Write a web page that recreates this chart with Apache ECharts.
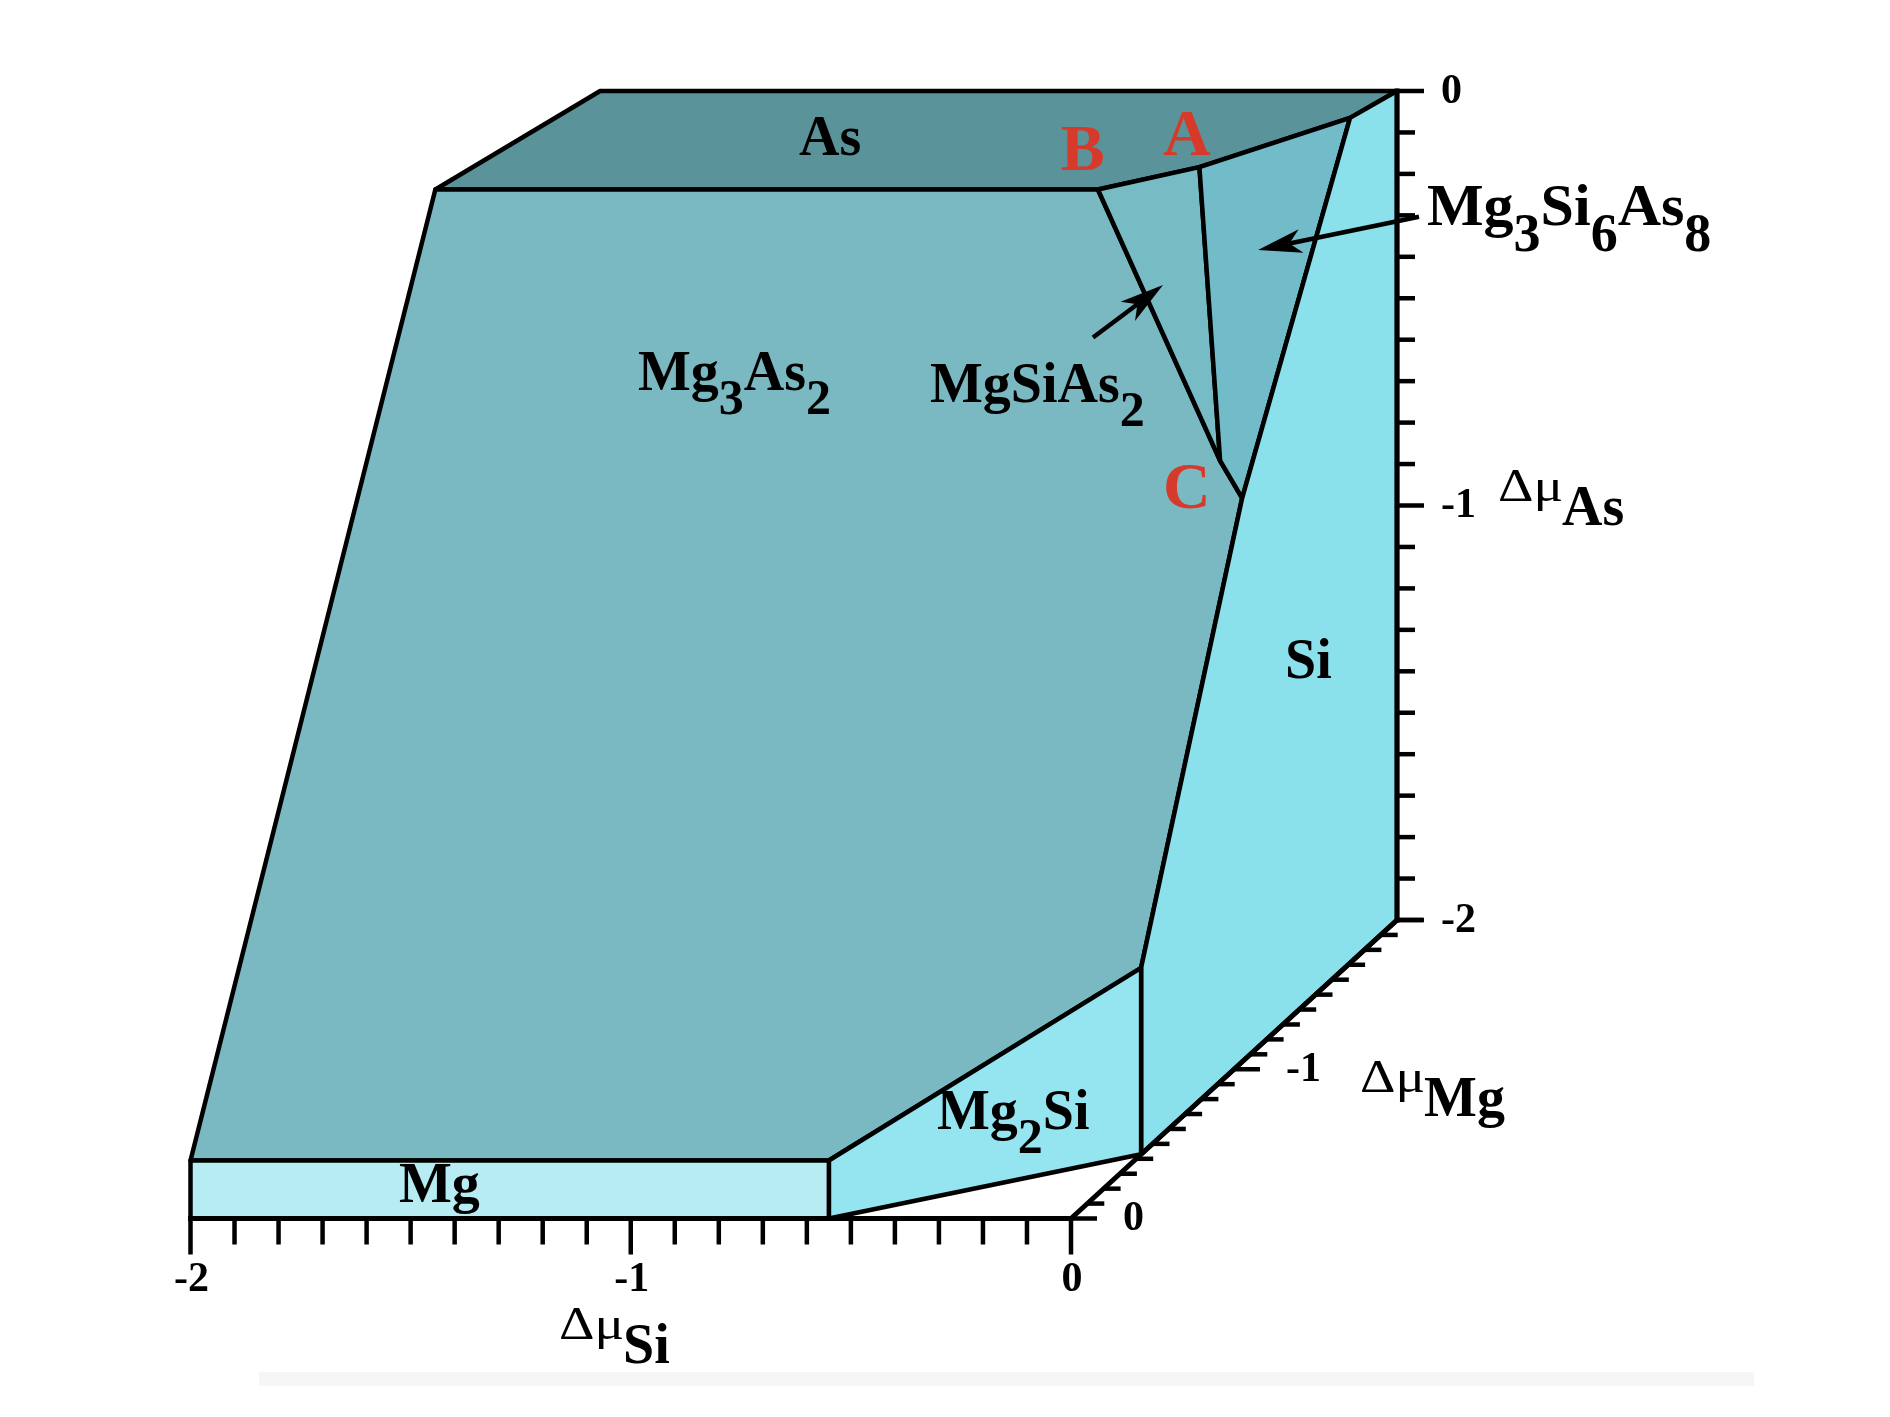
<!DOCTYPE html>
<html>
<head>
<meta charset="utf-8">
<script src="https://cdn.jsdelivr.net/npm/echarts@6/dist/echarts.min.js"></script>
<style>
html,body{margin:0;padding:0;background:#ffffff;}
#chart{width:1890px;height:1417px;}
</style>
</head>
<body>
<div id="chart"></div>
<script>
// ================= DATA (chemical potentials, eV) =================
// every vertex is [Δμ_Si, Δμ_Mg, Δμ_As]
const faceNames = ['As', 'Mg3As2', 'MgSiAs2', 'Mg3Si6As8', 'Si', 'Mg2Si', 'Mg'];
const faceAs        = [[-1.81,-2,0],[0,-2,0],[-0.04,-1.82,0],[-0.26,-1.49,0],[-0.435,-1.34,0],[-1.94,-1.34,0]];
const faceMg3As2    = [[-1.94,-1.34,0],[-0.435,-1.34,0],[-0.05,-1.05,-0.55],[0,-1.05,-0.64],[0,-0.43,-1.55],[-0.55,0,-1.86],[-2,0,-1.86]];
const faceMgSiAs2   = [[-0.435,-1.34,0],[-0.26,-1.49,0],[-0.05,-1.05,-0.55]];
const faceMg3Si6As8 = [[-0.26,-1.49,0],[-0.04,-1.82,0],[0,-1.05,-0.64],[-0.05,-1.05,-0.55]];
const faceSi        = [[-0.04,-1.82,0],[0,-2,0],[0,-2,-2],[0,-0.43,-2],[0,-0.43,-1.55],[0,-1.05,-0.64]];
const faceMg2Si     = [[-0.55,0,-1.86],[0,-0.43,-1.55],[0,-0.43,-2],[-0.55,0,-2]];
const faceMg        = [[-2,0,-1.86],[-0.55,0,-1.86],[-0.55,0,-2],[-2,0,-2]];

// axes
const siRange = [-2, 0];
const mgRange = [0, -2];
const asRange = [-2, 0];
const tickStep = 0.1;
const siTickValues = [-2, -1, 0];
const siTickLabels = ['-2', '-1', '0'];
const mgTickValues = [0, -1, -2];
const mgTickLabels = ['0', '-1', ''];
const asTickValues = [0, -1, -2];
const asTickLabels = ['0', '-1', '-2'];

// text
const faceLabelTexts = ['{n|As}', '{n|Mg}{s|3}{n|As}{s|2}', '{n|MgSiAs}{s|2}', '{N|Mg}{S|3}{N|Si}{S|6}{N|As}{S|8}', '{n|Si}', '{n|Mg}{s|2}{n|Si}', '{n|Mg}'];
const pointLabelTexts = ['A', 'B', 'C'];
const axisTitleMain = ['Δμ', 'Δμ', 'Δμ'];
const axisTitleSub = ['Si', 'Mg', 'As'];

// ================= VIEW / LAYOUT (not data) =================
const SERIF = "'Liberation Serif','Times New Roman',Times,serif";
const VIEW = { kx: 0.37025, ky: 0.36007 };           // oblique projection of the Δμ_Mg depth axis
function project(p) { return [p[0] - VIEW.kx * p[1], p[2] + 2 - VIEW.ky * p[1]]; }

const FACE_COLORS = { As:'#5a9399', Mg3As2:'#7ab8c2', MgSiAs2:'#77bbc5', Mg3Si6As8:'#71bcc8', Si:'#8ae1ec', Mg2Si:'#95e5f0', Mg:'#b7ecf2' };
const FACES = { As: faceAs, Mg3As2: faceMg3As2, MgSiAs2: faceMgSiAs2, Mg3Si6As8: faceMg3Si6As8, Si: faceSi, Mg2Si: faceMg2Si, Mg: faceMg };

// label anchors in view (projected) coordinates
const FACE_LABEL_POS = [[-0.6178,2.4789],[-0.9835,1.9119],[-0.3203,1.8830],[0.8086,2.3033],[0.4861,1.2171],[-0.3044,0.1291],[-1.5264,-0.0470]];
const POINT_LABEL_POS = [[0.2090,2.5279],[-0.0232,2.4920],[0.2090,1.6755]];
const AXIS_TITLE_POS = [[-1.1630,-0.3160],[0.6565,0.2799],[0.9699,1.7057]];
const ARROWS = [
  { from: [0.0500, 2.1255], to: [0.2090, 2.2521] },
  { from: [0.7905, 2.4169], to: [0.4248, 2.3365] }
];

const AXES = [
  { point: t => [t, 0, -2], range: siRange, values: siTickValues, labels: siTickLabels, dir: [0, 1], minor: 26, major: 36, lab: { dx: 1, dy: 62, align: 'center' } },
  { point: t => [0, t, -2], range: mgRange, values: mgTickValues, labels: mgTickLabels, dir: [1, 0], minor: 17, major: 26, lab: { dx: 52, dy: 1, align: 'left' } },
  { point: t => [0, -2, t], range: asRange, values: asTickValues, labels: asTickLabels, dir: [1, 0], minor: 18, major: 27, lab: { dx: 44, dy: 1, align: 'left' } }
];

const FORMULA_RICH = {
  n: { fontFamily: SERIF, fontWeight: 'bold', fontSize: 56, fill: '#000', verticalAlign: 'bottom', padding: [0, 0, 22, 0] },
  s: { fontFamily: SERIF, fontWeight: 'bold', fontSize: 50, fill: '#000', verticalAlign: 'bottom' },
  N: { fontFamily: SERIF, fontWeight: 'bold', fontSize: 60, fill: '#000', verticalAlign: 'bottom', padding: [0, 0, 24, 0] },
  S: { fontFamily: SERIF, fontWeight: 'bold', fontSize: 54, fill: '#000', verticalAlign: 'bottom' }
};

function arrowParts(p0, p1) {
  const dx = p1[0] - p0[0], dy = p1[1] - p0[1], L = Math.hypot(dx, dy);
  const ux = dx / L, uy = dy / L, nx = -uy, ny = ux;
  const hl = 44, hw = 12, notch = 12;
  const base = [p1[0] - ux * hl, p1[1] - uy * hl];
  const nb = [p1[0] - ux * (hl - notch), p1[1] - uy * (hl - notch)];
  return {
    line: [p0, nb],
    head: [p1, [base[0] + nx * hw, base[1] + ny * hw], nb, [base[0] - nx * hw, base[1] - ny * hw]]
  };
}

const chart = echarts.init(document.getElementById('chart'), null, { renderer: 'canvas' });
chart.setOption({
  animation: false,
  backgroundColor: '#ffffff',
  grid: { left: 190.5, top: 16.45, width: 1584.9, height: 1367.85, containLabel: false, outerBoundsMode: 'none' },
  xAxis: { type: 'value', min: -2, max: 1.6, show: false },
  yAxis: { type: 'value', min: -0.4, max: 2.9, show: false },
  graphic: [
    { type: 'rect', z: -10, silent: true, shape: { x: 259, y: 1372, width: 1495, height: 14 }, style: { fill: '#f6f6f6' } }
  ],
  series: [
    {
      type: 'custom', name: 'faces', coordinateSystem: 'cartesian2d', silent: true, z: 1, clip: false,
      data: faceNames.map(() => [0, 0]),
      renderItem(params, api) {
        const name = faceNames[params.dataIndex];
        const pts = FACES[name].map(p => api.coord(project(p)));
        return { type: 'polygon', shape: { points: pts }, style: { fill: FACE_COLORS[name], stroke: '#000', lineWidth: 4.5, lineJoin: 'round' } };
      }
    },
    {
      type: 'custom', name: 'axes', coordinateSystem: 'cartesian2d', silent: true, z: 2, clip: false,
      data: AXES.map(() => [0, 0]),
      renderItem(params, api) {
        const ax = AXES[params.dataIndex];
        const children = [];
        const a = api.coord(project(ax.point(ax.range[0])));
        const b = api.coord(project(ax.point(ax.range[1])));
        children.push({ type: 'line', shape: { x1: a[0], y1: a[1], x2: b[0], y2: b[1] }, style: { stroke: '#000', lineWidth: 5, lineCap: 'square' } });
        const n = Math.round(Math.abs(ax.range[1] - ax.range[0]) / tickStep);
        const sgn = ax.range[1] > ax.range[0] ? 1 : -1;
        for (let k = 0; k <= n; k++) {
          const t = ax.range[0] + sgn * k * tickStep;
          const isMajor = ax.values.some(v => Math.abs(v - t) < 1e-6);
          const len = isMajor ? ax.major : ax.minor;
          const p = api.coord(project(ax.point(t)));
          children.push({ type: 'line', shape: { x1: p[0], y1: p[1], x2: p[0] + ax.dir[0] * len, y2: p[1] + ax.dir[1] * len }, style: { stroke: '#000', lineWidth: 4.5 } });
        }
        ax.values.forEach((v, i) => {
          if (!ax.labels[i]) return;
          const p = api.coord(project(ax.point(v)));
          children.push({ type: 'text', x: p[0] + ax.lab.dx, y: p[1] + ax.lab.dy,
            style: { text: ax.labels[i], fill: '#000', font: 'bold 42px ' + SERIF, align: ax.lab.align, verticalAlign: 'middle' } });
        });
        return { type: 'group', children };
      }
    },
    {
      type: 'custom', name: 'faceLabels', coordinateSystem: 'cartesian2d', silent: true, z: 3, clip: false,
      data: FACE_LABEL_POS,
      renderItem(params, api) {
        const p = api.coord([api.value(0), api.value(1)]);
        return { type: 'text', x: p[0], y: p[1], style: { text: faceLabelTexts[params.dataIndex], rich: FORMULA_RICH, align: 'left', verticalAlign: 'bottom', fill: '#000', font: 'bold 56px ' + SERIF } };
      }
    },
    {
      type: 'custom', name: 'pointLabels', coordinateSystem: 'cartesian2d', silent: true, z: 3, clip: false,
      data: POINT_LABEL_POS,
      renderItem(params, api) {
        const p = api.coord([api.value(0), api.value(1)]);
        return { type: 'text', x: p[0], y: p[1], style: { text: pointLabelTexts[params.dataIndex], fill: '#d63a2b', font: 'bold 66px ' + SERIF, align: 'left', verticalAlign: 'bottom' } };
      }
    },
    {
      type: 'custom', name: 'axisTitles', coordinateSystem: 'cartesian2d', silent: true, z: 3, clip: false,
      data: AXIS_TITLE_POS,
      renderItem(params, api) {
        const p = api.coord([api.value(0), api.value(1)]);
        const i = params.dataIndex;
        return { type: 'group', children: [
          { type: 'text', x: p[0], y: p[1], scaleX: 1.2, style: { text: axisTitleMain[i], fill: '#000', font: 'normal 46px ' + SERIF, align: 'left', verticalAlign: 'bottom' } },
          { type: 'text', x: p[0] + 64, y: p[1] + 26.6, style: { text: axisTitleSub[i], fill: '#000', font: 'bold 56px ' + SERIF, align: 'left', verticalAlign: 'bottom' } }
        ] };
      }
    },
    {
      type: 'custom', name: 'arrows', coordinateSystem: 'cartesian2d', silent: true, z: 4, clip: false,
      data: ARROWS.map(a => [a.to[0], a.to[1]]),
      renderItem(params, api) {
        const ar = ARROWS[params.dataIndex];
        const p0 = api.coord(ar.from), p1 = api.coord(ar.to);
        const parts = arrowParts(p0, p1);
        return { type: 'group', children: [
          { type: 'line', shape: { x1: parts.line[0][0], y1: parts.line[0][1], x2: parts.line[1][0], y2: parts.line[1][1] }, style: { stroke: '#000', lineWidth: 4.5 } },
          { type: 'polygon', shape: { points: parts.head }, style: { fill: '#000' } }
        ] };
      }
    }
  ]
});
</script>
</body>
</html>
